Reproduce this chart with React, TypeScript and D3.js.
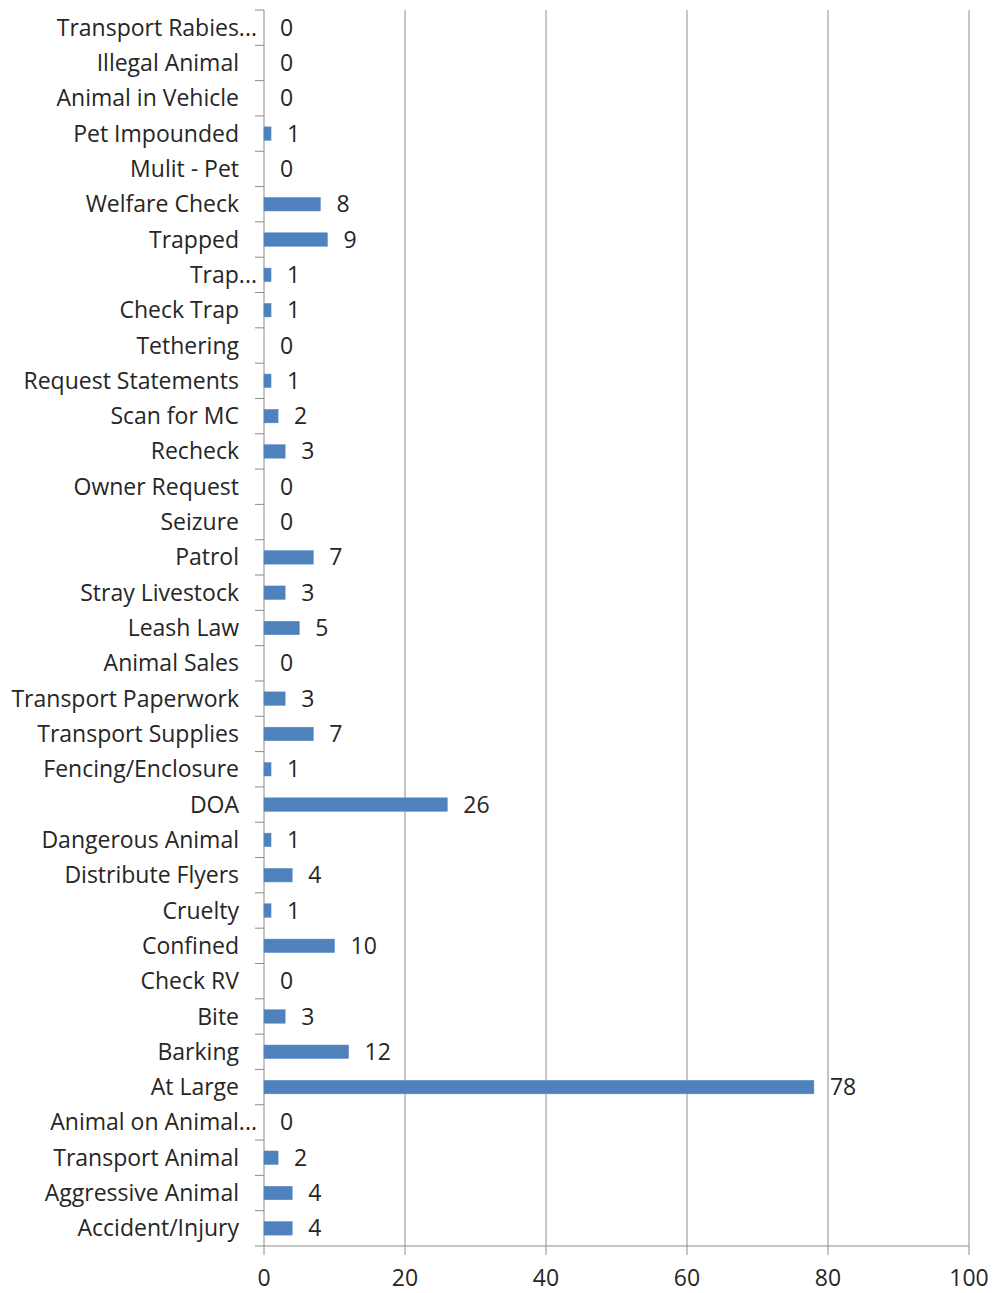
import React from "react";
import * as d3 from "d3";

const categories = [
  "Transport Rabies...", "Illegal Animal", "Animal in Vehicle", "Pet Impounded", "Mulit - Pet",
  "Welfare Check", "Trapped", "Trap...", "Check Trap", "Tethering", "Request Statements",
  "Scan for MC", "Recheck", "Owner Request", "Seizure", "Patrol", "Stray Livestock", "Leash Law",
  "Animal Sales", "Transport Paperwork", "Transport Supplies", "Fencing/Enclosure", "DOA",
  "Dangerous Animal", "Distribute Flyers", "Cruelty", "Confined", "Check RV", "Bite", "Barking",
  "At Large", "Animal on Animal...", "Transport Animal", "Aggressive Animal", "Accident/Injury",
];
const values = [0, 0, 0, 1, 0, 8, 9, 1, 1, 0, 1, 2, 3, 0, 0, 7, 3, 5, 0, 3, 7, 1, 26, 1, 4, 1, 10, 0, 3, 12, 78, 0, 2, 4, 4];
const xTicks = [0, 20, 40, 60, 80, 100];

const W = 993, H = 1293;
const left = 264, right = 969, top = 10, bottom = 1246;
const FONT = "'Open Sans', sans-serif";
const FS = 23;

export default function App() {
  const x = d3.scaleLinear().domain([0, 100]).range([left, right]);
  const y = d3.scaleBand().domain(categories).range([top, bottom]).paddingInner(0).paddingOuter(0);
  const bw = y.bandwidth();
  const barH = 13.5;
  const grid = "#8c8c8c";
  const text = "#262626";
  return (
    <svg width={W} height={H} style={{ position: "absolute", left: 0, top: 0, background: "#fff" }}>
      {xTicks.map((t) => (
        <g key={t}>
          <line x1={x(t)} x2={x(t)} y1={top} y2={bottom + 9} stroke={grid} strokeWidth={1} />
          <text x={x(t)} y={bottom + 40} textAnchor="middle" fontFamily={FONT} fontSize={FS} fill={text}>{t}</text>
        </g>
      ))}
      <line x1={left - 9} x2={right} y1={bottom} y2={bottom} stroke={grid} strokeWidth={1} />
      {categories.map((c, i) => (
        <line key={"t" + i} x1={left - 9} x2={left} y1={(y(c) as number)} y2={(y(c) as number)} stroke={grid} strokeWidth={1} />
      ))}
      {categories.map((c, i) => {
        const cy = (y(c) as number) + bw / 2;
        const ell = c.endsWith("...");
        return (
          <g key={c}>
            {values[i] > 0 && (
              <rect x={x(0)} y={cy - barH / 2} width={x(values[i]) - x(0)} height={barH} fill="#4f81bd" stroke="#5b8ac4" strokeWidth={0.5} />
            )}
            <text x={ell ? left - 7 : left - 25} y={cy} dy="0.35em" textAnchor="end" fontFamily={FONT} fontSize={FS} fill={text}>{c}</text>
            <text x={x(values[i]) + 16} y={cy} dy="0.35em" fontFamily={FONT} fontSize={FS} fill={text}>{values[i]}</text>
          </g>
        );
      })}
    </svg>
  );
}
